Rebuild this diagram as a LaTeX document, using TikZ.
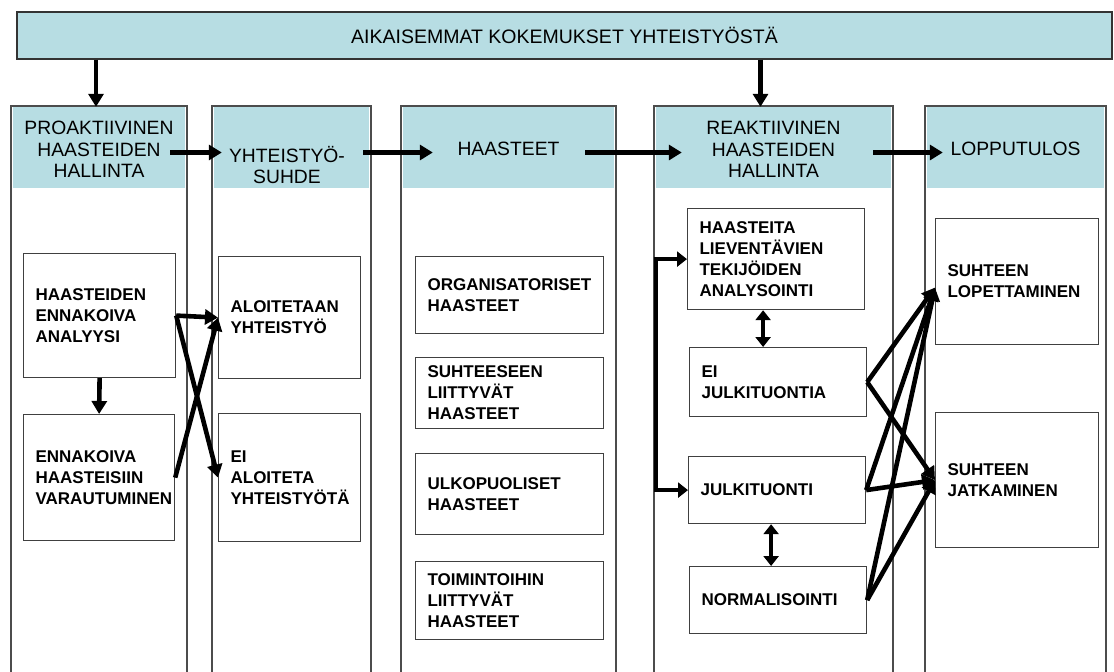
\documentclass[tikz,border=0pt]{standalone}
\usepackage{fontspec}
\setmainfont{Liberation Sans}
\usepackage{xcolor}
\usepackage{tikz}
\usetikzlibrary{arrows.meta}
\definecolor{headblue}{RGB}{183,221,227}
\newcommand{\headfont}{\fontsize{19.3}{21.5}\selectfont}
\newcommand{\itemfont}{\fontsize{17}{21}\selectfont\bfseries}
\tikzstyle{topbar} = [rectangle, draw=black!80, line width=1.2pt, fill=headblue, text centered, font=\fontsize{19.5}{22}\selectfont]
\tikzstyle{headbox} = [rectangle, fill=headblue, inner sep=0pt, minimum height=81pt]
\tikzstyle{headtext} = [align=center, font=\headfont, inner sep=1pt]
\tikzstyle{itembox} = [rectangle, draw=black!75, line width=1.2pt, fill=white, anchor=north west, align=left, inner xsep=12pt, inner ysep=0pt, font=\itemfont]
\tikzstyle{colline} = [draw=black!70, line width=1.2pt]
\tikzstyle{arr} = [-{Triangle[length=13pt,width=15pt]}, line width=4.6pt]
\tikzstyle{dbl} = [{Triangle[length=10pt,width=15pt]}-{Triangle[length=10pt,width=15pt]}, line width=4.6pt]

\begin{document}
\begin{tikzpicture}[x=1pt, y=-1pt]
	\useasboundingbox (0,0) rectangle (1114,672);
	\node (prev) [topbar, minimum width=1095pt, minimum height=47pt] at (564.5,35.5) {AIKAISEMMAT KOKEMUKSET YHTEISTYÖSTÄ};

	\draw[colline] (11,672) |- (187,106) -- (187,672);
	\draw[colline] (212,672) |- (371,106) -- (371,672);
	\draw[colline] (401,672) |- (616,106) -- (616,672);
	\draw[colline] (654,672) |- (893,106) -- (893,672);
	\draw[colline] (925,672) |- (1106,106) -- (1106,672);

	\node (hd1) [headbox, minimum width=172pt] at (99,147.5) {};
	\node (hd2) [headbox, minimum width=155pt] at (291.5,147.5) {};
	\node (hd3) [headbox, minimum width=211pt] at (508.5,147.5) {};
	\node (hd4) [headbox, minimum width=235pt] at (773.5,147.5) {};
	\node (hd5) [headbox, minimum width=177pt] at (1015.5,147.5) {};
	\node (proakt) [headtext] at ([yshift=-2pt]hd1) {PROAKTIIVINEN\\HAASTEIDEN\\HALLINTA};
	\node (yhteis) [headtext] at (287,165) {YHTEISTYÖ-\\SUHDE};
	\node (haast) [headtext] at ([yshift=-1pt]hd3) {HAASTEET};
	\node (reakt) [headtext] at ([yshift=-2pt]hd4) {REAKTIIVINEN\\HAASTEIDEN\\HALLINTA};
	\node (lopput) [headtext] at ([yshift=-1pt]hd5) {LOPPUTULOS};

	\node (hea) [itembox, text width=128pt, minimum height=124pt] at (23,253) {HAASTEIDEN\\ENNAKOIVA\\ANALYYSI};
	\node (enr) [itembox, text width=127pt, minimum height=126pt] at (23,414) {ENNAKOIVA\\HAASTEISIIN\\VARAUTUMINEN};
	\node (alo) [itembox, text width=118pt, minimum height=122pt] at (218,256) {ALOITETAAN\\YHTEISTYÖ};
	\node (eia) [itembox, text width=118pt, minimum height=128pt] at (218,413) {EI\\ALOITETA\\YHTEISTYÖTÄ};
	\node (org) [itembox, text width=164pt, minimum height=77pt] at (415,256) {ORGANISATORISET\\HAASTEET};
	\node (suh) [itembox, text width=164pt, minimum height=71pt] at (415,357) {SUHTEESEEN\\LIITTYVÄT\\HAASTEET};
	\node (ulk) [itembox, text width=164pt, minimum height=81pt] at (415,453) {ULKOPUOLISET\\HAASTEET};
	\node (toi) [itembox, text width=164pt, minimum height=78pt] at (415,561) {TOIMINTOIHIN\\LIITTYVÄT\\HAASTEET};
	\node (anal) [itembox, text width=153pt, minimum height=101pt] at (687,208) {HAASTEITA\\LIEVENTÄVIEN\\TEKIJÖIDEN\\ANALYSOINTI};
	\node (eij) [itembox, text width=153pt, minimum height=69pt] at (689,347) {EI\\JULKITUONTIA};
	\node (julk) [itembox, text width=153pt, minimum height=67pt] at (688,456) {JULKITUONTI};
	\node (norm) [itembox, text width=153pt, minimum height=67pt] at (689,566) {NORMALISOINTI};
	\node (lop) [itembox, text width=139pt, minimum height=126pt] at (935,218) {SUHTEEN\\LOPETTAMINEN};
	\node (jat) [itembox, text width=139pt, minimum height=135pt] at (935,412) {SUHTEEN\\JATKAMINEN};
	\coordinate (brk) at (656,0);

	\draw[arr] ([xshift=-3pt]hd1.north |- prev.south) -- ([xshift=-3pt]hd1.north);
	\draw[arr] ([xshift=-13pt]hd4.north |- prev.south) -- ([xshift=-13pt]hd4.north);
	\draw[arr] ([shift={(-15,5)}]hd1.east) -- ([shift={(8,5)}]hd2.west);
	\draw[arr] ([shift={(-6,5)}]hd2.east) -- ([shift={(30,5)}]hd3.west);
	\draw[arr] ([shift={(-29,5)}]hd3.east) -- ([shift={(26,5)}]hd4.west);
	\draw[arr] ([shift={(-18,5)}]hd4.east) -- ([shift={(16,5)}]hd5.west);

	\draw[arr] (hea.south) -- (enr.north);
	\draw[arr] (hea.east) -- (alo.west);
	\draw[arr] (hea.east) -- (eia.west);
	\draw[arr] (enr.east) -- (alo.west);

	\draw[dbl] (anal.west) -- (anal.west -| brk) |- (julk.west);
	\draw[dbl] ([xshift=-13pt]anal.south) -- ([xshift=-13pt]anal.south |- eij.north);
	\draw[dbl] ([xshift=-6pt]julk.south) -- ([xshift=-6pt]julk.south |- norm.north);
	\draw[arr] (eij.east) -- ([yshift=-6pt]lop.west);
	\draw[arr] (eij.east) -- (jat.west);
	\draw[arr] (julk.east) -- ([yshift=-6pt]lop.west);
	\draw[arr] (julk.east) -- (jat.west);
	\draw[arr] (norm.east) -- ([yshift=-6pt]lop.west);
	\draw[arr] (norm.east) -- (jat.west);
\end{tikzpicture}
\end{document}
